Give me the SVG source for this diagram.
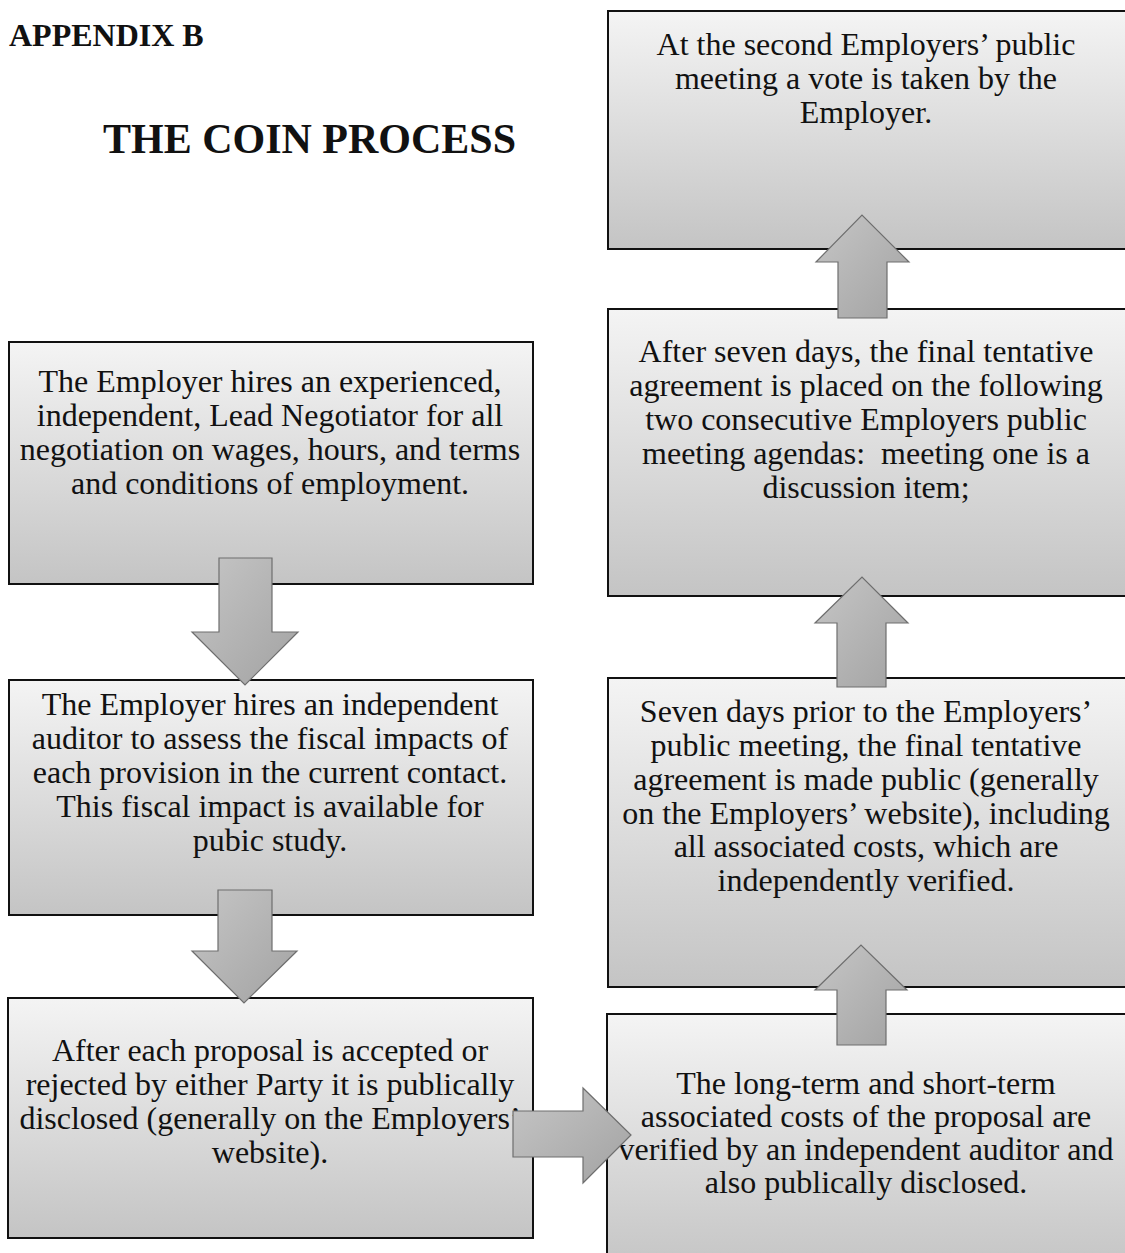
<svg xmlns="http://www.w3.org/2000/svg" width="1125" height="1253" viewBox="0 0 1125 1253">
<defs>
<linearGradient id="boxg" x1="0" y1="0" x2="0" y2="1">
<stop offset="0" stop-color="#f4f4f4"/>
<stop offset="1" stop-color="#c4c4c4"/>
</linearGradient>
<linearGradient id="arrg" x1="0" y1="0" x2="1" y2="1">
<stop offset="0" stop-color="#c6c6c6"/>
<stop offset="1" stop-color="#a2a2a2"/>
</linearGradient>
<style>
.box{fill:url(#boxg);stroke:#111;stroke-width:2}
.arr{fill:url(#arrg);stroke:#6e6e6e;stroke-width:1.2;stroke-linejoin:miter}
.t{font-family:"Liberation Serif","Times New Roman",serif;font-size:32px;fill:#111;text-anchor:middle}
.h{font-family:"Liberation Serif","Times New Roman",serif;font-weight:bold;fill:#111}
</style>
</defs>
<rect width="1125" height="1253" fill="#fff"/>
<text class="h" x="9" y="46" font-size="32">APPENDIX B</text>
<text class="h" x="103" y="153" font-size="42">THE COIN PROCESS</text>

<g id="L1"><rect class="box" x="9" y="342" width="524" height="242"/>
<text class="t"><tspan x="270" y="392">The Employer hires an experienced,</tspan><tspan x="270" y="426">independent, Lead Negotiator for all</tspan><tspan x="270" y="460">negotiation on wages, hours, and terms</tspan><tspan x="270" y="494">and conditions of employment.</tspan></text></g>

<g id="L2"><rect class="box" x="9" y="680" width="524" height="235"/>
<text class="t"><tspan x="270" y="715">The Employer hires an independent</tspan><tspan x="270" y="749">auditor to assess the fiscal impacts of</tspan><tspan x="270" y="783">each provision in the current contact.</tspan><tspan x="270" y="817">This fiscal impact is available for</tspan><tspan x="270" y="851">pubic study.</tspan></text></g>

<g id="L3"><rect class="box" x="8" y="998" width="525" height="240"/>
<text class="t"><tspan x="270" y="1061">After each proposal is accepted or</tspan><tspan x="270" y="1095">rejected by either Party it is publically</tspan><tspan x="270" y="1129">disclosed (generally on the Employers’</tspan><tspan x="270" y="1163">website).</tspan></text></g>

<g id="R1"><rect class="box" x="608" y="11" width="530" height="238"/>
<text class="t"><tspan x="866" y="55">At the second Employers’ public</tspan><tspan x="866" y="89">meeting a vote is taken by the</tspan><tspan x="866" y="123">Employer.</tspan></text></g>

<g id="R2"><rect class="box" x="608" y="309" width="530" height="287"/>
<text class="t"><tspan x="866" y="362">After seven days, the final tentative</tspan><tspan x="866" y="396">agreement is placed on the following</tspan><tspan x="866" y="430">two consecutive Employers public</tspan><tspan x="866" y="464" xml:space="preserve">meeting agendas:  meeting one is a</tspan><tspan x="866" y="498">discussion item;</tspan></text></g>

<g id="R3"><rect class="box" x="608" y="678" width="530" height="309"/>
<text class="t"><tspan x="866" y="722">Seven days prior to the Employers’</tspan><tspan x="866" y="756">public meeting, the final tentative</tspan><tspan x="866" y="790">agreement is made public (generally</tspan><tspan x="866" y="824">on the Employers’ website), including</tspan><tspan x="866" y="857">all associated costs, which are</tspan><tspan x="866" y="891">independently verified.</tspan></text></g>

<g id="R4"><rect class="box" x="607" y="1014" width="530" height="260"/>
<text class="t"><tspan x="866" y="1094">The long-term and short-term</tspan><tspan x="866" y="1127">associated costs of the proposal are</tspan><tspan x="866" y="1160">verified by an independent auditor and</tspan><tspan x="866" y="1193">also publically disclosed.</tspan></text></g>

<g id="connectors">
<path class="arr" d="M219 558 H272 V632 H298 L245 685 L192 632 H219 Z"/>
<path class="arr" d="M218 890 H272 V951 H297 L244 1003 L192 951 H218 Z"/>
<path class="arr" d="M838 318 V262 H816 L862 215 L909 262 H887 V318 Z"/>
<path class="arr" d="M837 687 V623 H815 L862 577 L908 623 H886 V687 Z"/>
<path class="arr" d="M837 1045 V990 H815 L861 945 L907 990 H886 V1045 Z"/>
<path class="arr" d="M513 1111 H583 V1088 L631 1135 L583 1183 V1157 H513 Z"/>
</g>
</svg>
